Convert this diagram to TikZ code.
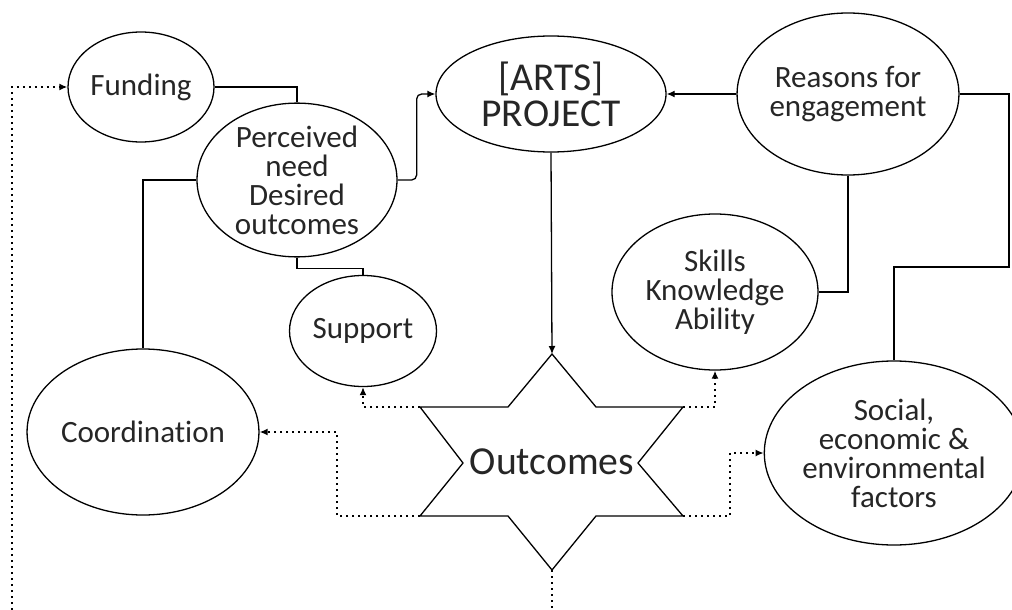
\documentclass[tikz,border=0pt]{standalone}
\usepackage{fontspec}
\setmainfont{Carlito}[Ligatures=NoCommon]
\usetikzlibrary{shapes.geometric,arrows.meta}

\begin{document}
\begin{tikzpicture}[x=1pt,y=-1pt]
        \tikzstyle{bubble} = [ellipse, draw, line width=1.3pt, inner sep=0pt, align=center, text=black!85, font=\fontsize{31}{29}\selectfont]
        \tikzstyle{link} = [line width=1.3pt]
        \tikzstyle{arrow} = [link, -{Latex[length=8pt,width=7pt]}]
        \tikzstyle{effect} = [line width=1.6pt, dash pattern=on 2pt off 4pt, -{Latex[length=8pt,width=7pt]}]

        \useasboundingbox (0,0) rectangle (1012,610);

        \node (funding) [bubble, minimum width=146pt, minimum height=110pt] at (141,87) {Funding};
        \node (need) [bubble, minimum width=200pt, minimum height=150pt] at (297,180) {Perceived\\need\\Desired\\outcomes};
        \node (arts) [bubble, minimum width=230pt, minimum height=116pt, font=\fontsize{39.5}{36}\selectfont] at (551,94) {[ARTS]\\PROJECT};
        \node (reasons) [bubble, minimum width=216pt, minimum height=162pt] at (848,94) {Reasons for\\engagement};
        \node (skills) [bubble, minimum width=206pt, minimum height=156pt] at (715,292) {Skills\\Knowledge\\Ability};
        \node (support) [bubble, minimum width=147pt, minimum height=111pt] at (363,331) {Support};
        \node (coord) [bubble, minimum width=220pt, minimum height=166pt] at (143,432) {Coordination};
        \node (social) [bubble, minimum width=230pt, minimum height=184pt] at (894,453) {Social,\\economic \&\\environmental\\factors};

        % the star
        \coordinate (otop) at (552,354);
        \coordinate (obot) at (552,570);
        \coordinate (oul) at (420,407);
        \coordinate (our) at (683,407);
        \coordinate (oll) at (420,516);
        \coordinate (olr) at (683,516);
        \draw [link, line join=miter] (otop) -- (596,407) -- (our) -- (638,463) -- (olr) -- (596,516) -- (obot)
            -- (508,516) -- (oll) -- (463,463) -- (oul) -- (508,407) -- cycle;
        \node (outcomes) [text=black!85, font=\fontsize{39.7}{40}\selectfont] at (552,462) {Outcomes};

        \coordinate (rturn) at (1009,267);
        \coordinate (loopl) at (12,610);
        \coordinate (loopb) at (552,610);

        \draw [link] (funding.east) -| (need.north);
        \draw [link] (need.west) -| (coord.north);
        \draw [link] (need.south) -- ++(0,11) -| (support.north);
        \draw [arrow, rounded corners=5pt] (need.east) -- ++(19,0) |- (arts.west);
        \draw [arrow] (reasons.west) -- (arts.east);
        \draw [arrow] (arts.south) -- (otop);
        \draw [link] (reasons.south) |- (skills.east);
        \draw [link] (reasons.east) -| (rturn) -| (social.north);

        \draw [effect] (oul) -| (support.south);
        \draw [effect] (oll) -- ++(-83,0) |- (coord.east);
        \draw [effect] (our) -| (skills.south);
        \draw [effect] (olr) -- ++(47,0) |- (social.west);
        \draw [effect, -] (obot) -- (loopb);
        \draw [effect] (loopl) |- (funding.west);
    \end{tikzpicture}
\end{document}
